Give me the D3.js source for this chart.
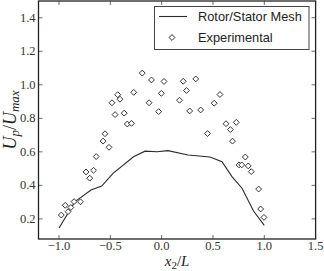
<!DOCTYPE html>
<html>
<head>
<meta charset="utf-8">
<script src="https://cdn.jsdelivr.net/npm/d3@7"></script>
<style>
  body { margin: 0; background: #fff; }
  svg { display: block; }
  .tick-label { font-family: "Liberation Serif", serif; font-size: 12.5px; fill: #333; }
  .legend-text { font-family: "Liberation Sans", Arial, sans-serif; font-size: 12.8px; fill: #222; }
  .axis-title { font-family: "Liberation Serif", serif; font-style: italic; fill: #222; }
</style>
</head>
<body>
<div id="chart"></div>
<script>
// Rotor/Stator mesh line
var meshX = [-1.0, -0.844, -0.688, -0.584, -0.474, -0.274, -0.162, -0.045, 0.062, 0.257, 0.471, 0.588, 0.685, 0.783, 0.895, 1.0];
var meshY = [0.146, 0.303, 0.372, 0.396, 0.472, 0.571, 0.604, 0.601, 0.607, 0.581, 0.569, 0.541, 0.452, 0.383, 0.247, 0.161];

// experimental points
var expX = [-0.978, -0.940, -0.912, -0.885, -0.854, -0.791, -0.737, -0.701, -0.664, -0.638,
            -0.571, -0.513, -0.552, -0.484, -0.428, -0.406, -0.454, -0.365, -0.335, -0.294,
            -0.272, -0.189, -0.099, -0.123, -0.029, 0.023, -0.003, 0.210, 0.332, 0.242,
            0.174, 0.273, 0.380, 0.447, 0.568, 0.512, 0.627, 0.727, 0.669, 0.690,
            0.815, 0.754, 0.780, 0.844, 0.873, 0.945, 0.965, 0.997];
var expY = [0.223, 0.281, 0.243, 0.268, 0.303, 0.302, 0.480, 0.443, 0.490, 0.572,
            0.664, 0.627, 0.708, 0.893, 0.941, 0.914, 0.822, 0.831, 0.766, 0.770,
            0.955, 1.070, 1.029, 0.893, 0.840, 1.020, 0.949, 1.021, 1.035, 0.966,
            0.908, 0.844, 0.850, 0.709, 0.942, 0.890, 0.768, 0.776, 0.733, 0.664,
            0.569, 0.522, 0.522, 0.516, 0.482, 0.378, 0.259, 0.209];

var xTicks = [-1.0, -0.5, 0.0, 0.5, 1.0, 1.5];
var yTicks = [0.2, 0.4, 0.6, 0.8, 1.0, 1.2, 1.4];
var legendNames = ["Rotor/Stator Mesh", "Experimental"];

var width = 324, height = 271;
var plot = { left: 38.5, right: 315.6, top: 1, bottom: 239 };

var svg = d3.select("#chart").append("svg")
    .attr("width", width)
    .attr("height", height);

var x = d3.scaleLinear().domain([-1.2, 1.5]).range([plot.left, plot.right]);
var y = d3.scaleLinear().domain([0.08, 1.5]).range([plot.bottom, plot.top]);

var fmt = function(d) { return d3.format(".1f")(d).replace("-", "\u2212"); };

// inside ticks on all four sides
var tickG = svg.append("g").attr("stroke", "#444").attr("stroke-width", 0.8);
xTicks.forEach(function(t) {
    tickG.append("line").attr("x1", x(t)).attr("x2", x(t)).attr("y1", plot.bottom).attr("y2", plot.bottom - 4);
    tickG.append("line").attr("x1", x(t)).attr("x2", x(t)).attr("y1", plot.top).attr("y2", plot.top + 4);
});
yTicks.forEach(function(t) {
    tickG.append("line").attr("x1", plot.left).attr("x2", plot.left + 4).attr("y1", y(t)).attr("y2", y(t));
    tickG.append("line").attr("x1", plot.right).attr("x2", plot.right - 4).attr("y1", y(t)).attr("y2", y(t));
});

// tick labels
svg.append("g").selectAll("text")
    .data(xTicks)
    .enter().append("text")
    .attr("class", "tick-label")
    .attr("x", d => x(d))
    .attr("y", plot.bottom + 11)
    .attr("text-anchor", "middle")
    .text(fmt);

svg.append("g").selectAll("text")
    .data(yTicks)
    .enter().append("text")
    .attr("class", "tick-label")
    .attr("x", plot.left - 3)
    .attr("y", d => y(d) + 4)
    .attr("text-anchor", "end")
    .text(fmt);

// mesh line
var line = d3.line()
    .x((d, i) => x(meshX[i]))
    .y((d, i) => y(meshY[i]));

svg.append("path")
    .datum(meshX)
    .attr("d", line)
    .attr("fill", "none")
    .attr("stroke", "#2a2a2a")
    .attr("stroke-width", 1.1);

// experimental diamonds
var diamond = d3.symbol().type(d3.symbolDiamond2).size(22);
svg.append("g").selectAll("path")
    .data(expX)
    .enter().append("path")
    .attr("d", diamond)
    .attr("transform", (d, i) => `translate(${x(d)},${y(expY[i])})`)
    .attr("fill", "#fff")
    .attr("stroke", "#333")
    .attr("stroke-width", 1);

// frame
svg.append("rect")
    .attr("x", plot.left)
    .attr("y", plot.top)
    .attr("width", plot.right - plot.left)
    .attr("height", plot.bottom - plot.top)
    .attr("fill", "none")
    .attr("stroke", "#222")
    .attr("stroke-width", 1.3);

// legend
var lg = svg.append("g");
lg.append("rect")
    .attr("x", 154.5).attr("y", 6.5)
    .attr("width", 154.5).attr("height", 43)
    .attr("fill", "#fff")
    .attr("stroke", "#444")
    .attr("stroke-width", 1);
lg.append("line")
    .attr("x1", 159).attr("x2", 187)
    .attr("y1", 16.5).attr("y2", 16.5)
    .attr("stroke", "#2a2a2a").attr("stroke-width", 1.1);
lg.append("path")
    .attr("d", diamond)
    .attr("transform", "translate(172,37.5)")
    .attr("fill", "#fff").attr("stroke", "#333").attr("stroke-width", 1);
lg.selectAll("text.legend-text")
    .data(legendNames)
    .enter().append("text")
    .attr("class", "legend-text")
    .attr("x", 198)
    .attr("y", (d, i) => 21 + i * 20.5)
    .text(d => d);

// axis titles, centred on the axes box
var xt = svg.append("text")
    .attr("class", "axis-title")
    .attr("x", (plot.left + plot.right) / 2)
    .attr("y", 266)
    .attr("text-anchor", "middle")
    .style("font-size", "15px");
xt.append("tspan").text("x");
xt.append("tspan").attr("dy", 3).style("font-size", "11px").style("font-style", "normal").text("2");
xt.append("tspan").attr("dy", -3).style("font-style", "normal").text("/");
xt.append("tspan").text("L");

var yt = svg.append("text")
    .attr("class", "axis-title")
    .attr("transform", `translate(16,${(plot.top + plot.bottom) / 2}) rotate(-90)`)
    .attr("text-anchor", "middle")
    .style("font-size", "18px");
yt.append("tspan").text("U");
yt.append("tspan").attr("dy", 3).style("font-size", "13px").text("p");
yt.append("tspan").attr("dy", -3).style("font-style", "normal").text("/");
yt.append("tspan").text("U");
yt.append("tspan").attr("dy", 3).style("font-size", "13px").text("max");
</script>
</body>
</html>
